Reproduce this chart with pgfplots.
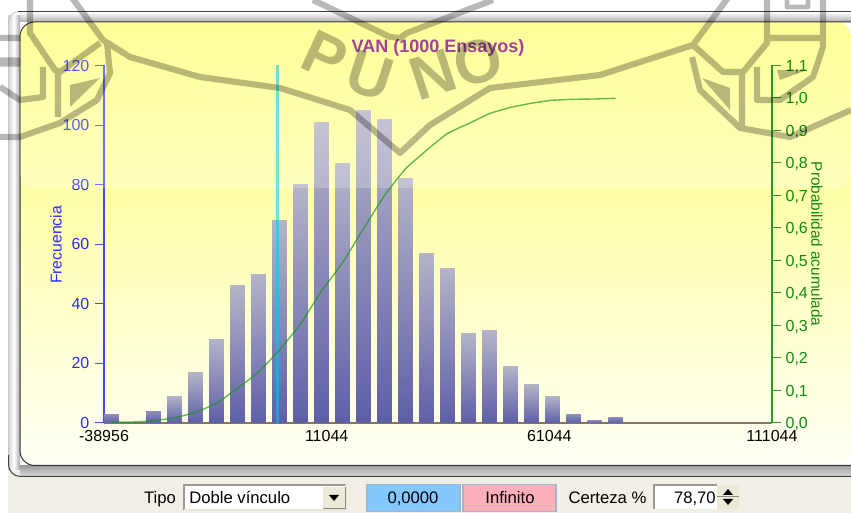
\documentclass[border=0pt]{standalone}
\usepackage{fontspec}
\setmainfont{Liberation Sans}
\usepackage{pgfplots}
\usepackage{pgfplotstable}
\pgfplotsset{compat=1.18}
\definecolor{axblue}{HTML}{4848FF}
\definecolor{lblblue}{HTML}{2C2CFF}
\definecolor{axgreen}{HTML}{2A9A2A}
\definecolor{lblgreen}{HTML}{108A10}
\definecolor{curve}{HTML}{189818}
\definecolor{vline}{HTML}{00C8FF}
\definecolor{titlec}{HTML}{A040A0}
\definecolor{tbbg}{HTML}{F1EFE6}
\definecolor{xaxc}{HTML}{807860}
\definecolor{bartop}{HTML}{B4B4C8}
\definecolor{bartops}{HTML}{8E8EBC}
\definecolor{barbot}{HTML}{5E5EA8}
\definecolor{edged}{HTML}{9C9A8C}
\definecolor{edgel}{HTML}{E8E6DC}
\definecolor{btn}{HTML}{ECE9D8}
\definecolor{btne}{HTML}{8C8A7C}
\definecolor{boxe}{HTML}{9AB8D0}
\definecolor{boxb}{HTML}{85C8FF}
\definecolor{boxp}{HTML}{FFB0BC}
\definecolor{pa}{HTML}{FFFF7C}
\definecolor{pb}{HTML}{FFFFAC}
\definecolor{pc}{HTML}{FFFFA8}
\definecolor{pd}{HTML}{FFFFF6}
\pgfplotstableread{
x cum
-37272 0.003
-32556 0.003
-27840 0.007
-23124 0.016
-18408 0.033
-13692 0.061
-8976 0.107
-4260 0.157
456 0.225
5172 0.305
9888 0.406
14604 0.493
19320 0.598
24036 0.700
28752 0.782
33468 0.839
38184 0.891
42900 0.921
47616 0.952
52332 0.971
57048 0.984
61764 0.993
66480 0.996
71196 0.997
75912 0.999
}\cumdata
\newcommand\tallbar[2]{\addplot[ybar,bar width=10.9pt,bar shift=0pt,draw=none,top color=bartop,bottom color=barbot,forget plot] coordinates {(#1,#2)};}
\newcommand\lowbar[2]{\addplot[ybar,bar width=10.9pt,bar shift=0pt,draw=none,top color=bartops,bottom color=barbot,forget plot] coordinates {(#1,#2)};}
\begin{document}
\begin{tikzpicture}[x=0.75pt,y=-0.75pt]
\useasboundingbox (0,0) rectangle (851,513);
\clip (0,0) rectangle (851,513);
\fill[white] (0,0) rectangle (851,513);
% toolbar
\fill[tbbg] (8,470) rectangle (851,513);
% bevel
\shade[top color=white,bottom color=gray!65] (20,12) rectangle (860,22);
\shade[top color=gray!75,bottom color=gray!25] (20,466) rectangle (860,477);
\shade[left color=gray!35,right color=white] (8,16) rectangle (14,470);
\shade[left color=white,right color=gray!70] (14,16) rectangle (20,470);
\draw[gray!45,line width=0.75pt,rounded corners=8] (22,11.5) -- (8.5,11.5) -- (8.5,460);
\draw[black!75,line width=0.75pt,rounded corners=9] (8.5,455) -- (8.5,476.5) -- (860,476.5);
\draw[black!75,line width=0.75pt] (18,11.5) -- (860,11.5);
% panel
\begin{scope}
\clip[rounded corners=11] (20,22) rectangle (851,465.5);
\shade[top color=pa,bottom color=pb] (20,22) rectangle (851,188);
\shade[top color=pc,bottom color=pd] (20,188) rectangle (851,465.5);
\end{scope}
\draw[black!80,line width=0.75pt,rounded corners=11] (851,22) -- (20,22) -- (20,465.5) -- (851,465.5);
% bars
\begin{axis}[at={(78pt,-317.25pt)},anchor=south west,scale only axis,
  width=501pt,height=268.125pt,
  xmin=-38956,xmax=111044,ymin=0,ymax=120,
  scaled x ticks=false,scaled y ticks=false,
  axis y line*=left,axis x line*=bottom,
  axis line style={-},
  y axis line style={color=axblue,line width=1.1pt},
  x axis line style={color=xaxc,line width=1pt},
  xtick={-38956,11044,61044,111044},
  xticklabels={-38956,11044,61044,111044},
  ytick={0,20,40,60,80,100,120},
  yticklabels={0,20,40,60,80,100,120},
  xtick style={draw=none},
  ytick style={color=axblue,line width=0.75pt},
  tick align=outside,major tick length=6.75pt,
  tick label style={font=\fontsize{12}{12}\selectfont,inner sep=0pt,outer sep=0pt},
  xticklabel style={text=black,yshift=1pt},
  yticklabel style={text=lblblue,xshift=-4.2pt},
  ylabel={Frecuencia},
  every axis y label/.style={at={(axis description cs:-0.072,0.498)},rotate=90,anchor=center,text=lblblue,font=\fontsize{11.8}{12}\selectfont},
  clip=false,
]
\lowbar{-37272}{3}
\lowbar{-27840}{4}
\tallbar{-23124}{9}
\tallbar{-18408}{17}
\tallbar{-13692}{28}
\tallbar{-8976}{46}
\tallbar{-4260}{50}
\tallbar{456}{68}
\tallbar{5172}{80}
\tallbar{9888}{101}
\tallbar{14604}{87}
\tallbar{19320}{105}
\tallbar{24036}{102}
\tallbar{28752}{82}
\tallbar{33468}{57}
\tallbar{38184}{52}
\tallbar{42900}{30}
\tallbar{47616}{31}
\tallbar{52332}{19}
\tallbar{57048}{13}
\tallbar{61764}{9}
\lowbar{66480}{3}
\lowbar{71196}{1}
\lowbar{75912}{2}
\end{axis}
% glossy overlay on upper section
\fill[white,opacity=0.22,rounded corners=11] (20,22.5) -- (851,22.5) -- (851,188) -- (20,188) -- cycle;
% right axis with curve
\begin{axis}[at={(78pt,-317.25pt)},anchor=south west,scale only axis,
  width=501pt,height=268.125pt,
  xmin=-38956,xmax=111044,ymin=0,ymax=1.1,
  scaled x ticks=false,
  axis y line*=right,axis x line=none,
  axis line style={-},
  y axis line style={color=axgreen,line width=1.1pt},
  ytick={0,0.1,0.2,0.3,0.4,0.5,0.6,0.7,0.8,0.9,1.0,1.1},
  yticklabels={{0,0},{0,1},{0,2},{0,3},{0,4},{0,5},{0,6},{0,7},{0,8},{0,9},{1,0},{1,1}},
  ytick style={color=axgreen,line width=0.75pt},
  tick align=outside,major tick length=7pt,
  tick label style={font=\fontsize{12}{12}\selectfont,inner sep=0pt,outer sep=0pt},
  yticklabel style={text=lblgreen,xshift=3.2pt,yshift=-0.8pt},
  ylabel={Probabilidad acumulada},
  every axis y label/.style={at={(axis description cs:1.067,0.50)},rotate=-90,anchor=center,text=lblgreen,font=\fontsize{11.5}{12}\selectfont},
  title={VAN (1000 Ensayos)},
  every axis title/.style={at={(axis description cs:0.5,1.048)},anchor=center,text=titlec,font=\bfseries\fontsize{13.5}{14}\selectfont},
  clip=false,
]
\addplot[vline,opacity=0.55,line width=1.7pt] coordinates {(0,0) (0,1.1)};
\addplot[curve,opacity=0.68,line width=1.05pt,smooth,tension=0.3] table[x=x,y=cum] {\cumdata};
\end{axis}
% toolbar controls
\fill[white] (184,485) rectangle (346,510);
\draw[edged,line width=1pt] (184,510) -- (184,485) -- (346,485);
\draw[edgel,line width=1pt] (184,510) -- (346,510) -- (346,485);
\fill[btn] (323,487) rectangle (345,509);
\draw[btne,line width=0.75pt] (323,509) -- (345,509) -- (345,487);
\fill[black] (329,495) -- (339,495) -- (334,501) -- cycle;
\node[font=\fontsize{12.5}{13}\selectfont,anchor=base] at (160,504) {Tipo};
\node[font=\fontsize{12.5}{13}\selectfont,anchor=base west,inner sep=0pt] at (189,504) {Doble vínculo};
\filldraw[fill=boxb,draw=boxe,line width=1pt] (367,484.5) rectangle (460,511.5);
\filldraw[fill=boxp,draw=boxe,line width=1pt] (463,484.5) rectangle (556,511.5);
\node[font=\fontsize{12.5}{13}\selectfont,anchor=base] at (413,504) {0,0000};
\node[font=\fontsize{12.5}{13}\selectfont,anchor=base] at (510,504) {Infinito};
\node[font=\fontsize{12.5}{13}\selectfont,anchor=base] at (607.5,504) {Certeza \%};
\fill[white] (654,485) rectangle (717,509);
\draw[edged,line width=1pt] (654,509) -- (654,485) -- (717,485);
\node[font=\fontsize{12.5}{13}\selectfont,anchor=base east,inner sep=0pt] at (716,504) {78,70};
\fill[btn] (717,485) rectangle (739,509);
\draw[btne,line width=0.75pt] (717,497) -- (739,497);
\fill[black] (723,495) -- (733,495) -- (728,489) -- cycle;
\fill[black] (723,499) -- (733,499) -- (728,505) -- cycle;
% watermark
\begin{scope}[transparency group,opacity=0.28]
\begin{scope}[line width=4.6pt,line join=round,draw=black]
\draw (70,-5) -- (103,40) -- (130,57) -- (200,77) -- (280,88) -- (350,110) -- (400,153) -- (430,125) -- (490,88) -- (600,75) -- (693,45) -- (730,-5);
\draw (313,0) -- (390,37) -- (400,38) -- (407,33) -- (493,0);
% left emblem
\draw (30,-5) -- (30,33) -- (55,70) -- (60,72) -- (100,43);
\draw (43,67) -- (43,97) -- (20,100) -- (0,87);
\draw (58,72) -- (58,117);
\draw (0,137) -- (20,137) -- (60,123) -- (97,100) -- (110,73) -- (107,43);
\draw (0,38) -- (20,38);
\draw[line width=7pt] (0,62) -- (20,62);
% right emblem
\draw (693,45) -- (723,72) -- (743,72) -- (767,43) -- (767,-5);
\draw (767,38) -- (823,38);
\draw (823,-5) -- (823,47) -- (813,77) -- (780,100) -- (757,100) -- (757,67);
\draw (692,57) -- (700,90) -- (740,128) -- (790,137) -- (851,110);
\draw (742,73) -- (742,127);
\draw[line width=3.5pt] (787,-2) -- (787,7) -- (808,7) -- (808,-2);
\end{scope}
\fill[black] (70,85) -- (100,78) -- (70,107) -- cycle;
\fill[black] (702,78) -- (730,88) -- (730,110) -- cycle;
\fill[black] (777,70) -- (807,70) -- (780,80) -- cycle;
\node[rotate=-25,font=\bfseries\fontsize{46}{46}\selectfont,inner sep=0pt] at (325,56) {P};
\node[rotate=-18,font=\bfseries\fontsize{46}{46}\selectfont,inner sep=0pt] at (370,76) {U};
\node[rotate=18,font=\bfseries\fontsize{46}{46}\selectfont,inner sep=0pt] at (433,75) {N};
\node[rotate=15,font=\bfseries\fontsize{46}{46}\selectfont,inner sep=0pt] at (478,62) {O};
\end{scope}
\end{tikzpicture}
\end{document}
